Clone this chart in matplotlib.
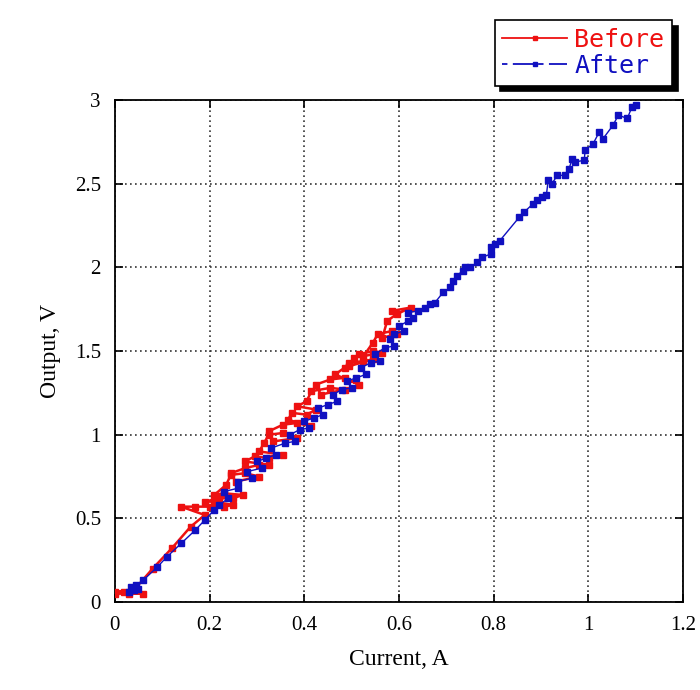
import matplotlib
matplotlib.use("Agg")
import matplotlib.pyplot as plt
from matplotlib.lines import Line2D

# Before (red) - current vs output, staircase-like hysteresis
before_x = [0.00, 0.03, 0.06, 0.02, 0.00, 0.04, 0.08, 0.12, 0.16, 0.19,
            0.14, 0.17, 0.20, 0.23, 0.25, 0.21, 0.19, 0.22, 0.25, 0.27, 0.23, 0.21,
            0.235, 0.245, 0.275, 0.305, 0.255, 0.245, 0.275, 0.305, 0.325, 0.275, 0.295, 0.325, 0.355, 0.305,
            0.315, 0.325, 0.355, 0.385, 0.335, 0.325, 0.355, 0.385, 0.415, 0.365, 0.375, 0.405, 0.425, 0.385,
            0.405, 0.415, 0.455, 0.485, 0.435, 0.425, 0.455, 0.485, 0.515, 0.465, 0.485, 0.495, 0.525, 0.545, 0.495,
            0.505, 0.515, 0.545, 0.565, 0.525, 0.545, 0.555, 0.585, 0.595, 0.565, 0.575, 0.595, 0.625, 0.585]
before_y = [0.05, 0.05, 0.05, 0.06, 0.06, 0.07, 0.20, 0.32, 0.45, 0.52,
            0.57, 0.57, 0.57, 0.57, 0.58, 0.60, 0.60, 0.62, 0.62, 0.64, 0.65, 0.64,
            0.70, 0.76, 0.77, 0.75, 0.72, 0.77, 0.80, 0.82, 0.82, 0.84, 0.87, 0.86, 0.88, 0.90,
            0.95, 1.00, 1.01, 0.98, 0.96, 1.02, 1.06, 1.07, 1.05, 1.09, 1.13, 1.12, 1.15, 1.17,
            1.20, 1.26, 1.28, 1.27, 1.24, 1.30, 1.33, 1.34, 1.30, 1.36, 1.40, 1.43, 1.44, 1.45, 1.41,
            1.46, 1.48, 1.50, 1.49, 1.47, 1.55, 1.60, 1.62, 1.60, 1.58, 1.68, 1.72, 1.76, 1.74]

# After (blue)
after_x = [0.03, 0.04, 0.05, 0.035, 0.045, 0.06, 0.09, 0.11, 0.14, 0.17, 0.19, 0.21, 0.22,
           0.24, 0.23, 0.26, 0.26, 0.29, 0.28, 0.31, 0.30, 0.32, 0.34, 0.33, 0.36, 0.38, 0.37,
           0.39, 0.41, 0.40, 0.42, 0.44, 0.43, 0.45, 0.47, 0.46, 0.48, 0.50, 0.49, 0.51, 0.53,
           0.52, 0.54, 0.56, 0.55, 0.57, 0.59, 0.58, 0.59, 0.61, 0.60, 0.62, 0.63, 0.62, 0.64,
           0.655, 0.666, 0.676, 0.693, 0.708, 0.714, 0.722, 0.735, 0.739, 0.750, 0.765, 0.775,
           0.794, 0.794, 0.803, 0.813, 0.854, 0.864, 0.883, 0.892, 0.902, 0.911, 0.915, 0.923,
           0.934, 0.951, 0.959, 0.966, 0.972, 0.991, 0.993, 1.010, 1.023, 1.031, 1.052, 1.063,
           1.082, 1.092, 1.100]
after_y = [0.06, 0.07, 0.08, 0.09, 0.10, 0.13, 0.21, 0.27, 0.35, 0.43, 0.49, 0.55, 0.58,
           0.62, 0.66, 0.68, 0.72, 0.74, 0.78, 0.80, 0.84, 0.86, 0.88, 0.92, 0.95, 0.96, 1.00,
           1.03, 1.04, 1.08, 1.10, 1.12, 1.16, 1.18, 1.20, 1.24, 1.27, 1.28, 1.32, 1.34, 1.36,
           1.40, 1.43, 1.44, 1.48, 1.52, 1.53, 1.57, 1.60, 1.62, 1.65, 1.68, 1.70, 1.73, 1.74,
           1.76, 1.78, 1.79, 1.85, 1.88, 1.92, 1.95, 1.98, 2.00, 2.00, 2.03, 2.06,
           2.08, 2.12, 2.14, 2.16, 2.30, 2.33, 2.38, 2.40, 2.42, 2.43, 2.52, 2.50,
           2.55, 2.55, 2.59, 2.65, 2.63, 2.64, 2.70, 2.74, 2.81, 2.77, 2.85, 2.91,
           2.89, 2.96, 2.97]

x_ticks = [0, 0.2, 0.4, 0.6, 0.8, 1, 1.2]
x_labels = ["0", "0.2", "0.4", "0.6", "0.8", "1", "1.2"]
y_ticks = [0, 0.5, 1, 1.5, 2, 2.5, 3]
y_labels = ["0", "0.5", "1", "1.5", "2", "2.5", "3"]

RED = "#ee1111"
BLUE = "#1010c0"

fig = plt.figure(figsize=(7, 6.9), dpi=100)
ax = fig.add_axes([0.164, 0.1275, 0.812, 0.7275])

ax.plot(before_x, before_y, color=RED, lw=1.8, marker="s", ms=5, zorder=3)
ax.plot(after_x, after_y, color=BLUE, lw=1.0, marker="s", ms=4.2, zorder=4)

ax.set_xlim(0, 1.2)
ax.set_ylim(0, 3)
ax.set_xticks(x_ticks)
ax.set_xticklabels(x_labels)
ax.set_yticks(y_ticks)
ax.set_yticklabels(y_labels)
ax.tick_params(direction="in", top=True, right=True, length=6, width=1.2,
               labelsize=15, pad=10)
for lbl in ax.get_xticklabels() + ax.get_yticklabels():
    lbl.set_family("Liberation Serif")
ax.grid(True, linestyle=(0, (1, 2)), color="#333333", lw=1.2)
for s in ax.spines.values():
    s.set_linewidth(1.3)

ax.set_xlabel("Current, A", family="Liberation Serif", fontsize=17, labelpad=10)
ax.set_ylabel("Output, V", family="Liberation Serif", fontsize=17, labelpad=10)

handles = [
    Line2D([], [], color=RED, lw=1.3, marker="s", ms=3.5),
    Line2D([], [], color=BLUE, lw=1.3, ls=(0, (3, 3, 12, 2)), marker="s", ms=3.5),
]
leg = fig.legend(handles, ["Before", "After"], loc="upper right",
                 bbox_to_anchor=(0.96, 0.971), borderaxespad=0, numpoints=1,
                 fancybox=False, edgecolor="black", labelcolor="linecolor",
                 prop={"family": "DejaVu Sans Mono", "size": 18},
                 handlelength=2.6, handletextpad=0.3, borderpad=0.3,
                 labelspacing=0.1, shadow={"color": "black", "alpha": 1, "ox": 4, "oy": -4})
leg.get_frame().set_linewidth(1.2)

fig.savefig("out.png", dpi=100)
